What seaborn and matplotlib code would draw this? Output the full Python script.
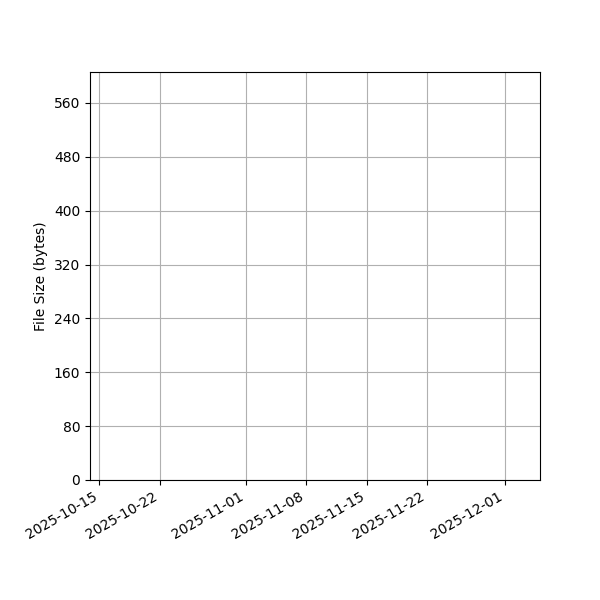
import pandas as pd
import matplotlib
matplotlib.use('Agg')
import matplotlib.pyplot as plt
import matplotlib.dates as mdates
import seaborn as sns

# no data points are visible in the chart, only the frame
dates = pd.to_datetime([])
sizes = []

x_limits = pd.to_datetime(['2025-10-13 22:00', '2025-12-05 02:00'])
y_limits = [0, 606]
y_ticks = [0, 80, 160, 240, 320, 400, 480, 560]

plt.rcParams['font.family'] = ['DejaVu Sans']

fig, ax = plt.subplots(figsize=(6, 6), dpi=100)
df = pd.DataFrame({'Date': dates, 'Size': pd.Series(sizes, dtype=float)})
sns.lineplot(data=df, x='Date', y='Size', ax=ax)

ax.set_xlim(x_limits[0], x_limits[1])
ax.set_ylim(*y_limits)
ax.set_yticks(y_ticks)
ax.xaxis.set_major_locator(mdates.DayLocator(bymonthday=[1, 8, 15, 22]))
ax.xaxis.set_major_formatter(mdates.DateFormatter('%Y-%m-%d'))
ax.grid(True)
ax.set_xlabel('')
ax.set_ylabel('File Size (bytes)')

fig.autofmt_xdate()
fig.subplots_adjust(left=0.15, right=0.9, top=0.88, bottom=0.2)
fig.savefig('out.png')
